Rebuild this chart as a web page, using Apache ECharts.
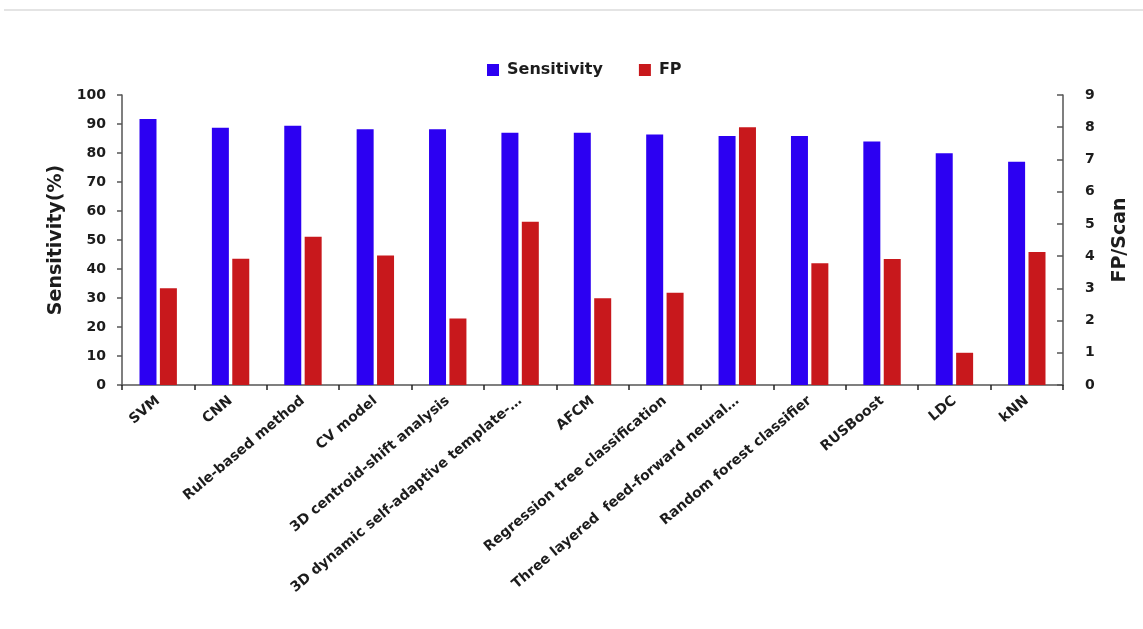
<!DOCTYPE html>
<html>
<head>
<meta charset="utf-8">
<script src="https://cdn.jsdelivr.net/npm/echarts@6/dist/echarts.min.js"></script>
<style>
  html, body { margin: 0; padding: 0; background: #ffffff; }
  #chart { width: 1143px; height: 629px; }
</style>
</head>
<body>
<div id="chart"></div>
<script>
// Detection methods compared by sensitivity (left axis) and false positives per scan (right axis)
const categories = [
  'SVM',
  'CNN',
  'Rule-based method',
  'CV model',
  '3D centroid-shift analysis',
  '3D dynamic self-adaptive template-…',
  'AFCM',
  'Regression tree classification',
  'Three layered  feed-forward neural…',
  'Random forest classifier',
  'RUSBoost',
  'LDC',
  'kNN'
];
const sensitivity = [91.7, 88.7, 89.4, 88.2, 88.2, 87.0, 87.0, 86.4, 85.9, 85.9, 84.0, 79.9, 77.0];
const fpPerScan  = [3.0, 3.92, 4.6, 4.02, 2.06, 5.07, 2.69, 2.86, 8.0, 3.78, 3.91, 1.0, 4.13];

const leftTicks = { min: 0, max: 100, interval: 10 };
const rightTicks = { min: 0, max: 9, interval: 1 };

const FONT = '"DejaVu Sans", sans-serif';
const AXIS_COLOR = '#555555';
const TEXT_COLOR = '#1c1c1c';

const chart = echarts.init(document.getElementById('chart'), null, { renderer: 'canvas' });

chart.setOption({
  backgroundColor: '#ffffff',
  animation: false,
  graphic: [
    {
      type: 'rect',
      shape: { x: 4, y: 9, width: 1139, height: 2 },
      style: { fill: '#e4e4e4' },
      silent: true
    }
  ],
  legend: {
    left: 482,
    top: 57,
    itemWidth: 12,
    itemHeight: 12,
    itemGap: 36,
    icon: 'rect',
    textStyle: {
      fontFamily: FONT,
      fontWeight: 'bold',
      fontSize: 16,
      color: TEXT_COLOR,
      padding: [0, 0, 0, 3]
    },
    data: ['Sensitivity', 'FP']
  },
  grid: {
    left: 122,
    right: 80,
    top: 95,
    bottom: 244,
    containLabel: false
  },
  xAxis: {
    type: 'category',
    data: categories,
    boundaryGap: true,
    axisLine: { show: true, lineStyle: { color: AXIS_COLOR, width: 1.5 } },
    axisTick: { show: true, interval: 0, length: 5, lineStyle: { color: '#222', width: 1.5 } },
    axisLabel: {
      interval: 0,
      rotate: 40,
      margin: 14,
      fontFamily: FONT,
      fontWeight: 'bold',
      fontSize: 14,
      color: TEXT_COLOR
    },
    splitLine: { show: false }
  },
  yAxis: [
    {
      type: 'value',
      position: 'left',
      min: leftTicks.min,
      max: leftTicks.max,
      interval: leftTicks.interval,
      name: 'Sensitivity(%)',
      nameLocation: 'middle',
      nameRotate: 90,
      nameGap: 52,
      nameTextStyle: { fontFamily: FONT, fontWeight: 'bold', fontSize: 19, color: TEXT_COLOR },
      axisLine: { show: true, lineStyle: { color: AXIS_COLOR, width: 1.5 } },
      axisTick: { show: true, length: 5, lineStyle: { color: AXIS_COLOR, width: 1.5 } },
      axisLabel: { margin: 16, fontFamily: FONT, fontWeight: 'bold', fontSize: 14, color: TEXT_COLOR },
      splitLine: { show: false }
    },
    {
      type: 'value',
      position: 'right',
      min: rightTicks.min,
      max: rightTicks.max,
      interval: rightTicks.interval,
      name: 'FP/Scan',
      nameLocation: 'middle',
      nameRotate: 90,
      nameGap: 48,
      nameTextStyle: { fontFamily: FONT, fontWeight: 'bold', fontSize: 19, color: TEXT_COLOR },
      axisLine: { show: true, lineStyle: { color: AXIS_COLOR, width: 1.5 } },
      axisTick: { show: true, inside: true, length: 6, lineStyle: { color: AXIS_COLOR, width: 1.5 } },
      axisLabel: { margin: 22, fontFamily: FONT, fontWeight: 'bold', fontSize: 14, color: TEXT_COLOR },
      splitLine: { show: false }
    }
  ],
  series: [
    {
      name: 'Sensitivity',
      type: 'bar',
      yAxisIndex: 0,
      data: sensitivity,
      barWidth: 17,
      barGap: '20%',
      itemStyle: { color: '#2c00f2' }
    },
    {
      name: 'FP',
      type: 'bar',
      yAxisIndex: 1,
      data: fpPerScan,
      barWidth: 17,
      barGap: '20%',
      itemStyle: { color: '#c8181c' }
    }
  ]
});
</script>
</body>
</html>
